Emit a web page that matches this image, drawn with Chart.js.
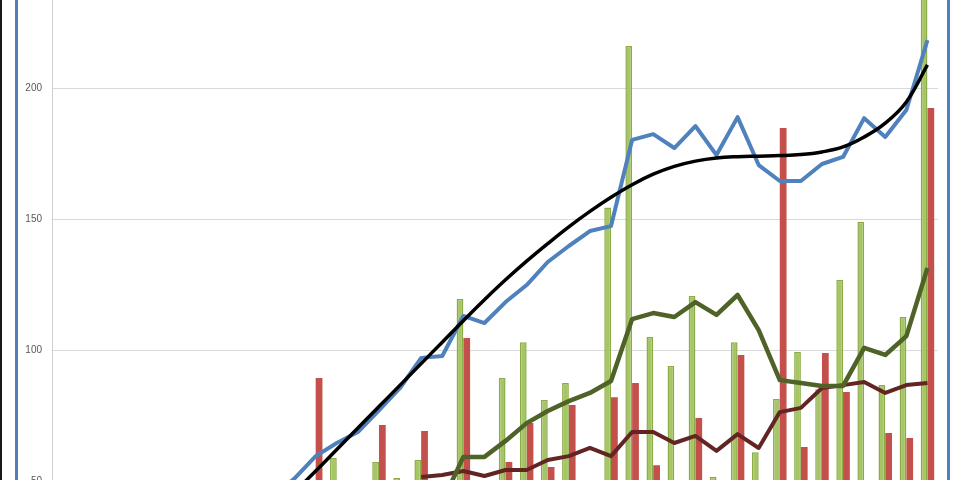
<!DOCTYPE html>
<html>
<head>
<meta charset="utf-8">
<script src="https://cdn.jsdelivr.net/npm/chart.js@4/dist/chart.umd.min.js"></script>
<style>
    body { margin: 0; overflow: hidden; background: #fff; }
    .wrap { position: relative; width: 960px; height: 482px; }
    .edge-black { position: absolute; left: 0; top: 0; width: 2px; height: 480px; background: #1a1a1a; }
    .edge-blue { position: absolute; top: 0; width: 3px; height: 480px; background: #4f7fbf; }
</style>
</head>
<body>
<div class="wrap">
    <canvas class="chart"></canvas>
    <div class="edge-black"></div>
    <div class="edge-blue" style="left:15px"></div>
    <div class="edge-blue" style="left:947px"></div>
</div>
<script>
const labels = ["1","2","3","4","5","6","7","8","9","10","11","12","13","14","15","16","17","18","19","20","21",
    "22","23","24","25","26","27","28","29","30","31","32","33","34","35","36","37","38","39","40","41","42"];

const yTicks = [50, 100, 150, 200];

// bars
const greenBars = [null, null, null, null, null, null, null, null, null, null, null, null, null,
    58.8, null, 57.3, 51.1, 58, null, 119.5, null, 89.3, 103, 80.9, 87.4, null, 154.4, 216,
    105, 93.9, 120.6, 51.5, 103, 61, 81.3, 99.2, 85, 126.8, 149, 86.6, 112.6, 245];
const redBars = [null, null, null, null, null, null, null, null, null, null, null, null,
    89.3, null, null, 71.4, null, 69.1, null, 104.6, null, 57.3, 72.1, 55.3, 79, null, 82, 87.4,
    56, null, 74, null, 98.1, null, 184.7, 63, 98.9, 84, null, 68.3, 66.4, 192.4];

// lines
const blueLine = [null, null, null, null, null, null, null, null, null, null, 44, 51,
    59.5, 64.5, 68.7, 77, 85.5, 97, 97.7, 113, 110.3, 118.3, 124.8, 133.6, 139.7, 145.4, 147.3, 180.2,
    182.4, 177.1, 185.5, 174.4, 188.9, 170.6, 164.5, 164.5, 171, 173.7, 188.5, 181.3, 191.6, 218.3];
const trendLine = [null, null, null, null, null, null, null, null, null, null, null, 45.8,
    53.8, 62, 70.2, 78.4, 86.6, 94.8, 103, 111.2, 119.2, 126.8, 133.9, 140.6, 147, 152.9, 158.3, 163.1,
    167.1, 170.1, 172.1, 173.3, 173.8, 174, 174.2, 174.6, 175.6, 177.5, 181.3, 186.6, 194.7, 208.8];
const greenLine = [null, null, null, null, null, null, null, null, null, null, null, null,
    null, null, null, null, null, null, 42, 59.2, 59.2, 65.3, 72.1, 76.7, 80.5, 83.6, 88.2, 111.8,
    114.1, 112.6, 118.3, 113.4, 121, 107.6, 88.5, 87.4, 86.3, 86.3, 100.8, 98.1, 105.3, 131.3];
const maroonLine = [null, null, null, null, null, null, null, null, null, null, null, null,
    null, null, null, null, null, 51.5, 52.3, 53.8, 51.9, 54.2, 54.2, 58, 59.5, 62.6, 59.5, 68.7,
    68.7, 64.5, 67.2, 61.5, 67.9, 62.6, 76.3, 77.9, 85.5, 86.6, 87.8, 83.6, 86.6, 87.4];

const canvas = document.querySelector(".chart")

const line = (data, color, width, order, smooth) => ({
    type: 'line',
    data: data,
    borderColor: color,
    borderWidth: width,
    pointRadius: 0,
    tension: smooth ? 0.4 : 0,
    borderJoinStyle: 'round',
    order: order
});

const config = {
    type: 'bar',
    data: {
        labels: labels,
        datasets: [
            line(trendLine, "#000000", 3.5, 0, true),
            line(blueLine, "#4f81bd", 4, 1, false),
            line(greenLine, "#4f6228", 4.5, 2, false),
            line(maroonLine, "#632523", 4, 3, false),
            {
                type: 'bar',
                data: greenBars,
                backgroundColor: "#a6c564",
                borderColor: "#8aab48",
                borderWidth: 1.5,
                categoryPercentage: 0.64,
                barPercentage: 1,
                order: 4
            },
            {
                type: 'bar',
                data: redBars,
                backgroundColor: "#c4504c",
                borderWidth: 0,
                categoryPercentage: 0.64,
                barPercentage: 1,
                order: 5
            }
        ]
    },
    options: {
        responsive: true,
        maintainAspectRatio: false,
        animation: false,
        layout: { padding: { top: 0, bottom: 1, left: 0, right: 22 } },
        plugins: { legend: { display: false }, tooltip: { enabled: false } },
        scales: {
            x: { display: false, offset: true },
            y: {
                min: 50,
                max: 233.6,
                afterFit: (scale) => {
                    scale.width = 52
                    scale.paddingTop = 0
                    scale.paddingBottom = 0
                },
                afterBuildTicks: (scale) => { scale.ticks = yTicks.map(v => ({ value: v })) },
                grid: { color: "#d9d9d9", lineWidth: 1, drawTicks: false },
                border: { color: "#d0d0d0" },
                ticks: {
                    padding: 10,
                    color: "#595959",
                    font: { family: "Liberation Sans", size: 10 }
                }
            }
        }
    }
};

const chart = new Chart(canvas, config)
</script>
</body>
</html>
